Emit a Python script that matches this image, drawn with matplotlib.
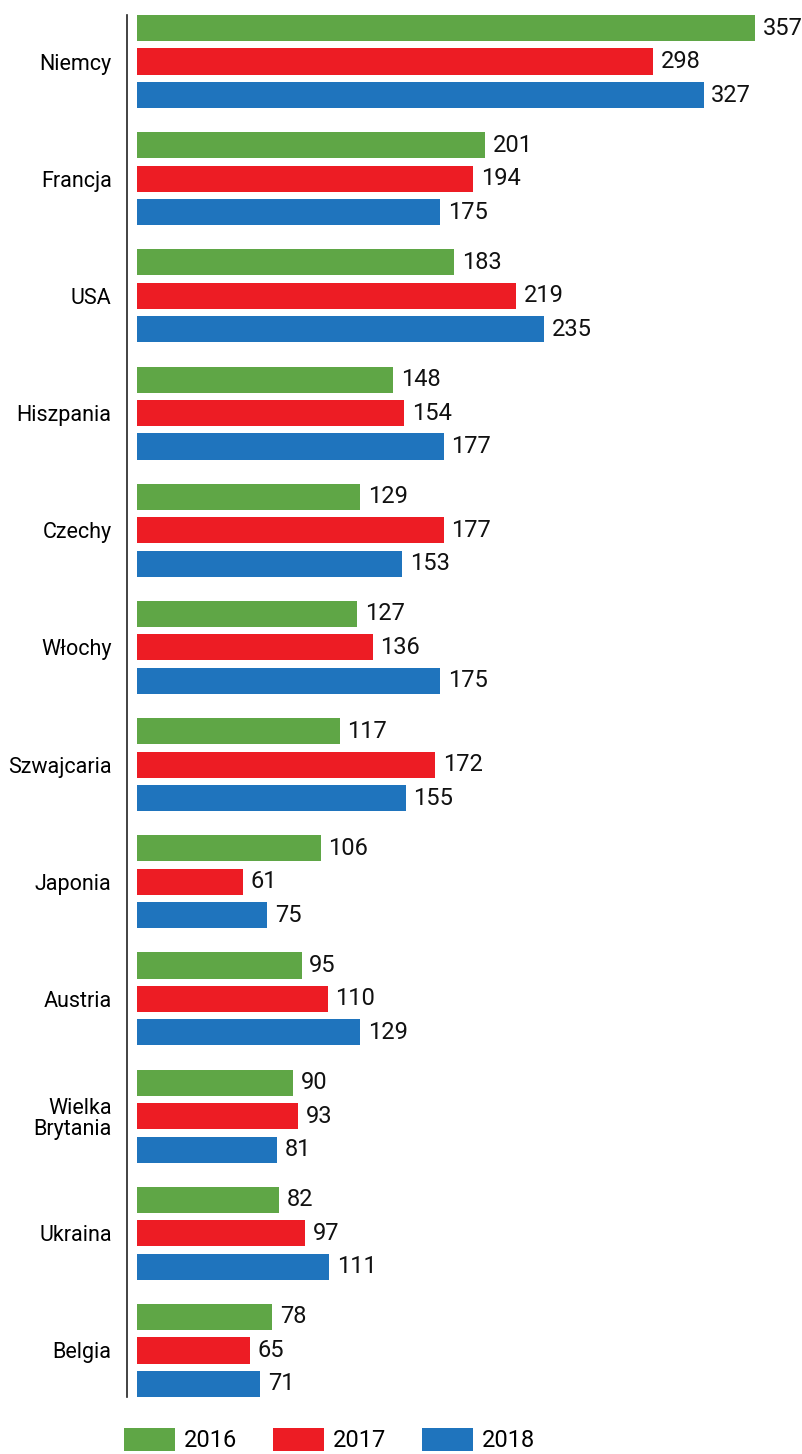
import matplotlib
matplotlib.use("Agg")
from matplotlib import pyplot as plt
import numpy as np

plt.rcParams['font.family'] = ['Liberation Sans Narrow', 'Roboto', 'DejaVu Sans']

countries = ["Niemcy", "Francja", "USA", "Hiszpania", "Czechy", "Włochy",
             "Szwajcaria", "Japonia", "Austria", "Wielka\nBrytania", "Ukraina", "Belgia"]
years = ["2016", "2017", "2018"]
v2016 = [357, 201, 183, 148, 129, 127, 117, 106, 95, 90, 82, 78]
v2017 = [298, 194, 219, 154, 177, 136, 172, 61, 110, 93, 97, 65]
v2018 = [327, 175, 235, 177, 153, 175, 155, 75, 129, 81, 111, 71]
colors = ['#5fa646', '#ed1c24', '#1f74bd']

fig = plt.figure(figsize=(8.03, 14.54), dpi=100)
ax = fig.add_axes([127 / 803, 1 - 1397 / 1454, 1 - 127 / 803, (1397 - 15) / 1454])

pitch = 3.5
base = np.arange(len(countries)) * pitch
for j, vals in enumerate([v2016, v2017, v2018]):
    ys = base + j
    ax.barh(ys, vals, height=0.78, color=colors[j], label=years[j])
    for y, v in zip(ys, vals):
        ax.text(v + 4.5, y, str(v), va='center', ha='left', fontsize=17, color='#111111')

ax.set_yticks(base + 1)
ax.set_yticklabels(countries, fontsize=15.5, linespacing=1.0)
ax.tick_params(axis='y', length=0, pad=11)
ax.set_xticks([])
ax.set_xlim(-10 / 1.737, (803 - 137) / 1.737 + 1)
ax.set_ylim(40.89, -0.39)
for s in ['top', 'right', 'bottom']:
    ax.spines[s].set_visible(False)
ax.spines['left'].set_linewidth(1.2)
ax.spines['left'].set_color('#222222')

fig.legend(loc='upper left', bbox_to_anchor=(124 / 803, 1 - 1428 / 1454), ncol=3,
           frameon=False, fontsize=17, handlelength=2.15, handleheight=1.1,
           handletextpad=0.4, columnspacing=1.5, borderpad=0, borderaxespad=0)

fig.savefig("out.png", dpi=100)
